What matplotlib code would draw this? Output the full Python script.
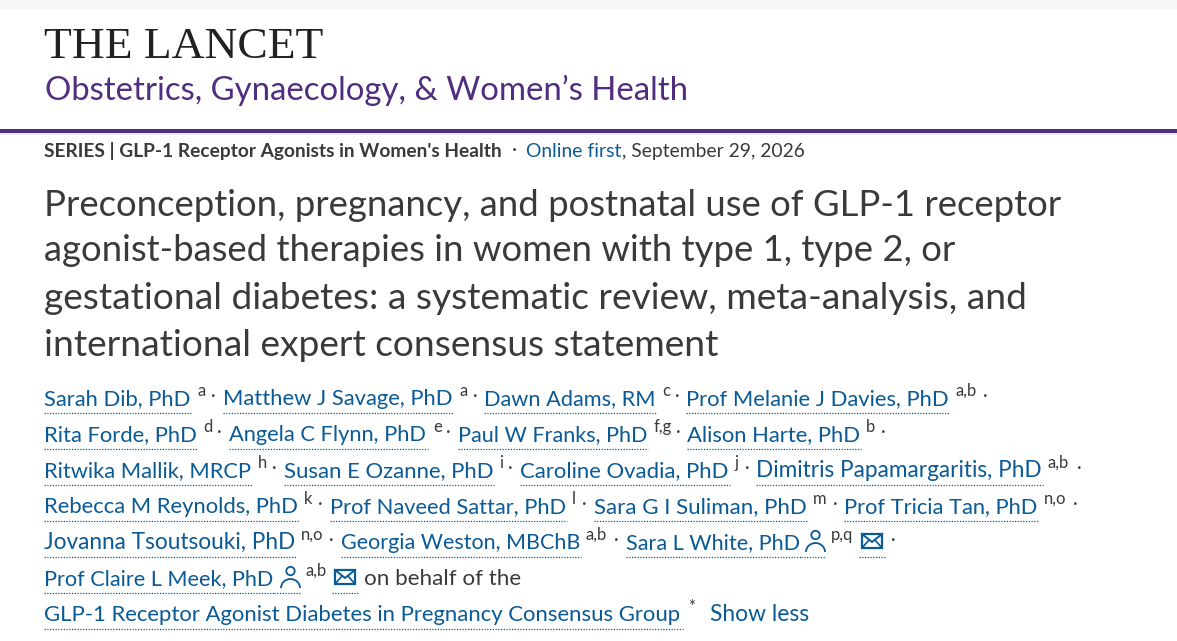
#!/usr/bin/env python3
"""Article header of a Lancet page, drawn on a pixel grid."""

import matplotlib
matplotlib.use('Agg')
import matplotlib.pyplot as plt
import matplotlib.patches as patches

plt.rcParams['font.family'] = ['Lato', 'DejaVu Sans']

W, H = 1177, 641
BLUE = '#0a5a96'
GREY = '#3a3a3a'
PURPLE = '#4f2d7f'

journal = 'THE LANCET'
subjournal = 'Obstetrics, Gynaecology, & Women\u2019s Health'
series = "SERIES | GLP-1 Receptor Agonists in Women's Health"
online = 'Online first'
date = ', September 29, 2026'
title_lines = [
    'Preconception, pregnancy, and postnatal use of GLP-1 receptor',
    'agonist-based therapies in women with type 1, type 2, or',
    'gestational diabetes: a systematic review, meta-analysis, and',
    'international expert consensus statement',
]

names = [
    ['Sarah Dib, PhD', 'Matthew J Savage, PhD', 'Dawn Adams, RM', 'Prof Melanie J Davies, PhD'],
    ['Rita Forde, PhD', 'Angela C Flynn, PhD', 'Paul W Franks, PhD', 'Alison Harte, PhD'],
    ['Ritwika Mallik, MRCP', 'Susan E Ozanne, PhD', 'Caroline Ovadia, PhD', 'Dimitris Papamargaritis, PhD'],
    ['Rebecca M Reynolds, PhD', 'Prof Naveed Sattar, PhD', 'Sara G I Suliman, PhD', 'Prof Tricia Tan, PhD'],
    ['Jovanna Tsoutsouki, PhD', 'Georgia Weston, MBChB', 'Sara L White, PhD'],
    ['Prof Claire L Meek, PhD'],
    ['GLP-1 Receptor Agonist Diabetes in Pregnancy Consensus Group'],
]
affils = [
    ['a', 'a', 'c', 'a,b'],
    ['d', 'e', 'f,g', 'b'],
    ['h', 'i', 'j', 'a,b'],
    ['k', 'l', 'm', 'n,o'],
    ['n,o', 'a,b', 'p,q'],
    ['a,b'],
    ['*'],
]

# layout, in reference pixels
name_x = [
    [(44, 192), (223, 454), (484, 656), (686, 950)],
    [(44, 198), (229, 428), (458, 648), (687, 861)],
    [(44, 252), (284, 494), (520, 730), (756, 1043)],
    [(44, 299), (330, 567), (594, 807), (844, 1039)],
    [(44, 296), (341, 581), (626, 801)],
    [(44, 274)],
    [(44, 683)],
]
sup_x = [
    [198, 460, 662, 955],
    [203, 433, 654, 866],
    [258, 499, 735, 1048],
    [304, 572, 813, 1044],
    [301, 586, 831],
    [305],
    [688],
]
dot_x = [
    [213, 475, 677, 985],
    [219, 448, 678, 883],
    [274, 510, 747, 1079],
    [320, 584, 835, 1075],
    [331, 616, 893],
    [],
    [],
]
line_y = [405, 441, 477, 513, 549, 585, 621]
title_y = [216, 261, 309, 356]
title_x1 = [1063, 958, 1028, 719]

fig = plt.figure(figsize=(W / 100, H / 100), dpi=100)
ax = fig.add_axes([0, 0, 1, 1])
ax.set_xlim(0, W)
ax.set_ylim(H, 0)
ax.axis('off')
renderer = fig.canvas.get_renderer()


def fit_text(x0, x1, y, s, size, color=GREY, **kw):
    """Baseline text, with the font size nudged so it spans x0..x1."""
    t = ax.text(x0, y, s, fontsize=size, color=color, va='baseline', ha='left', **kw)
    width = t.get_window_extent(renderer).width
    t.set_fontsize(size * (x1 - x0) / width)
    return t


def underline(x0, x1, y):
    ax.plot([x0, x1], [y, y], color=BLUE, lw=0.9, ls=(0, (1, 1.2)))


def person_icon(x, y):
    """Small outline figure, x = left edge, y = baseline of the text."""
    ax.add_patch(patches.Circle((x + 10.5, y - 14), 4.2, fill=False, ec=BLUE, lw=1.3))
    ax.add_patch(patches.Arc((x + 10.5, y + 3), 19, 18, theta1=180, theta2=360, ec=BLUE, lw=1.3))


def mail_icon(x, y):
    """Envelope, x = left edge, y = baseline of the text."""
    ax.add_patch(patches.Rectangle((x + 1, y - 15), 20, 14, fill=False, ec=BLUE, lw=1.6))
    ax.plot([x + 1, x + 11, x + 21], [y - 15, y - 7, y - 15], color=BLUE, lw=1.4)
    ax.plot([x + 1, x + 8], [y - 1, y - 9], color=BLUE, lw=1.2)
    ax.plot([x + 21, x + 14], [y - 1, y - 9], color=BLUE, lw=1.2)


# page furniture
ax.add_patch(patches.Rectangle((0, 0), W, 9, fc='#f7f7f7', ec='none'))
ax.add_patch(patches.Rectangle((0, 129), W, 3.5, fc=PURPLE, ec='none'))
ax.add_patch(patches.Rectangle((0, 132.5), W, 2.5, fc='#e9e9e9', ec='none'))

# masthead
fit_text(44, 323, 58, journal, 30, color='#222222', family='Liberation Serif')
fit_text(45, 690, 100, subjournal, 25, color=PURPLE)

# series line
fit_text(44, 502, 157, series, 13.5, color=GREY, fontweight='bold')
ax.text(514, 155, '\u00b7', fontsize=14, color=GREY, ha='center', va='baseline')
fit_text(526, 622, 157, online, 13.5, color=BLUE)
fit_text(622, 805, 157, date, 13.5, color=GREY)

# title
for s, y, x1 in zip(title_lines, title_y, title_x1):
    fit_text(44, x1, y, s, 25, color=GREY)

# authors
for row in range(len(names)):
    y = line_y[row]
    for name, (x0, x1), aff, sx in zip(names[row], name_x[row], affils[row], sup_x[row]):
        fit_text(x0, x1, y, name, 16, color=BLUE)
        underline(x0, x1, y + 7.5)
        ax.text(sx, y - 9, aff, fontsize=12, color=GREY, va='baseline', ha='left')
    for dx in dot_x[row]:
        ax.text(dx, y - 4, '\u00b7', fontsize=13, color=GREY, ha='center', va='baseline')

# icons on the last author lines
person_icon(805, 549)
underline(801, 826, 556.5)
mail_icon(861, 549)
underline(859, 885, 556.5)
person_icon(280, 585)
underline(274, 300, 592.5)
mail_icon(334, 585)
underline(332, 358, 592.5)

fit_text(364, 521, 585, 'on behalf of the', 16, color=GREY)
fit_text(710, 809, 621, 'Show less', 16, color=BLUE)

fig.savefig('out.png', dpi=100)
